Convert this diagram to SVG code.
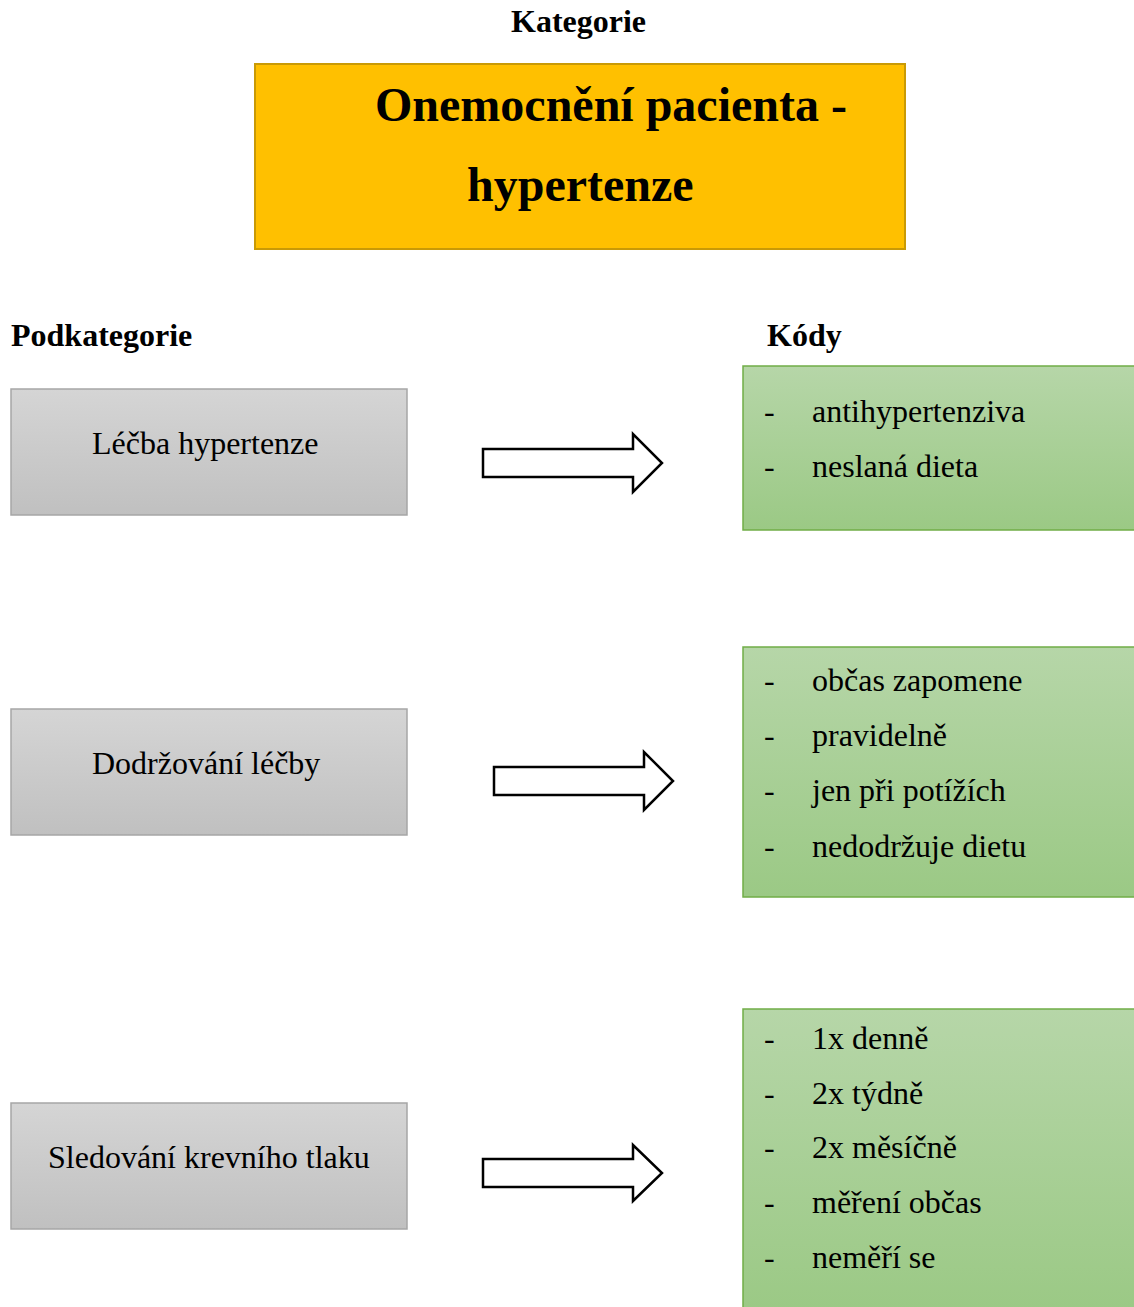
<svg xmlns="http://www.w3.org/2000/svg" width="1134" height="1307" viewBox="0 0 1134 1307">
  <style>
    text { font-family: "Liberation Serif", "Times New Roman", serif; fill: #000; }
    .head { font-size: 32px; font-weight: bold; }
    .title { font-size: 48px; font-weight: bold; }
    .sub { font-size: 32px; }
    .code { font-size: 32px; }
    .gray { fill: url(#grayFill); stroke: #a6a6a6; stroke-width: 1.5; }
    .green { fill: url(#greenFill); stroke: #70ad47; stroke-width: 1.5; }
    .arrow { fill: #fff; stroke: #000; stroke-width: 2.5; stroke-linejoin: miter; }
  </style>
  <defs>
    <linearGradient id="grayFill" x1="0" y1="0" x2="0" y2="1">
      <stop offset="0" stop-color="#d5d5d5"/>
      <stop offset="1" stop-color="#c0c0c0"/>
    </linearGradient>
    <linearGradient id="greenFill" x1="0" y1="0" x2="0" y2="1">
      <stop offset="0" stop-color="#b6d6a8"/>
      <stop offset="1" stop-color="#9bc985"/>
    </linearGradient>
  </defs>

  <rect width="1134" height="1307" fill="#fff"/>

  <!-- column headings -->
  <text class="head" x="511" y="32">Kategorie</text>
  <text class="head" x="11" y="346">Podkategorie</text>
  <text class="head" x="767" y="346">Kódy</text>

  <!-- category -->
  <g id="category">
    <rect x="255" y="64" width="650" height="185" fill="#ffc000" stroke="#c99a06" stroke-width="2"/>
    <text class="title" x="375" y="121">Onemocnění pacienta -</text>
    <text class="title" x="467" y="201">hypertenze</text>
  </g>

  <!-- subcategories -->
  <g id="sub-treatment">
    <rect class="gray" x="11" y="389" width="396" height="126"/>
    <text class="sub" x="92" y="454">Léčba hypertenze</text>
  </g>
  <g id="sub-adherence">
    <rect class="gray" x="11" y="709" width="396" height="126"/>
    <text class="sub" x="92" y="774">Dodržování léčby</text>
  </g>
  <g id="sub-monitoring">
    <rect class="gray" x="11" y="1103" width="396" height="126"/>
    <text class="sub" x="48" y="1168">Sledování krevního tlaku</text>
  </g>

  <!-- codes -->
  <g id="codes-treatment">
    <rect class="green" x="743" y="366" width="395" height="164"/>
    <text class="code" x="764" y="422">-</text>
    <text class="code" x="812" y="422">antihypertenziva</text>
    <text class="code" x="764" y="477">-</text>
    <text class="code" x="812" y="477">neslaná dieta</text>
  </g>
  <g id="codes-adherence">
    <rect class="green" x="743" y="647" width="395" height="250"/>
    <text class="code" x="764" y="691">-</text>
    <text class="code" x="812" y="691">občas zapomene</text>
    <text class="code" x="764" y="746">-</text>
    <text class="code" x="812" y="746">pravidelně</text>
    <text class="code" x="764" y="801">-</text>
    <text class="code" x="812" y="801">jen při potížích</text>
    <text class="code" x="764" y="857">-</text>
    <text class="code" x="812" y="857">nedodržuje dietu</text>
  </g>
  <g id="codes-monitoring">
    <rect class="green" x="743" y="1009" width="395" height="302"/>
    <text class="code" x="764" y="1049">-</text>
    <text class="code" x="812" y="1049">1x denně</text>
    <text class="code" x="764" y="1104">-</text>
    <text class="code" x="812" y="1104">2x týdně</text>
    <text class="code" x="764" y="1158">-</text>
    <text class="code" x="812" y="1158">2x měsíčně</text>
    <text class="code" x="764" y="1213">-</text>
    <text class="code" x="812" y="1213">měření občas</text>
    <text class="code" x="764" y="1268">-</text>
    <text class="code" x="812" y="1268">neměří se</text>
  </g>

  <!-- block arrows -->
  <g id="connectors">
    <path class="arrow" d="M483,449 H633 V434 L662,463 L633,492 V477 H483 Z"/>
    <path class="arrow" d="M494,767 H644 V752 L673,781 L644,810 V795 H494 Z"/>
    <path class="arrow" d="M483,1159 H633 V1145 L662,1173 L633,1201 V1187 H483 Z"/>
  </g>
</svg>
